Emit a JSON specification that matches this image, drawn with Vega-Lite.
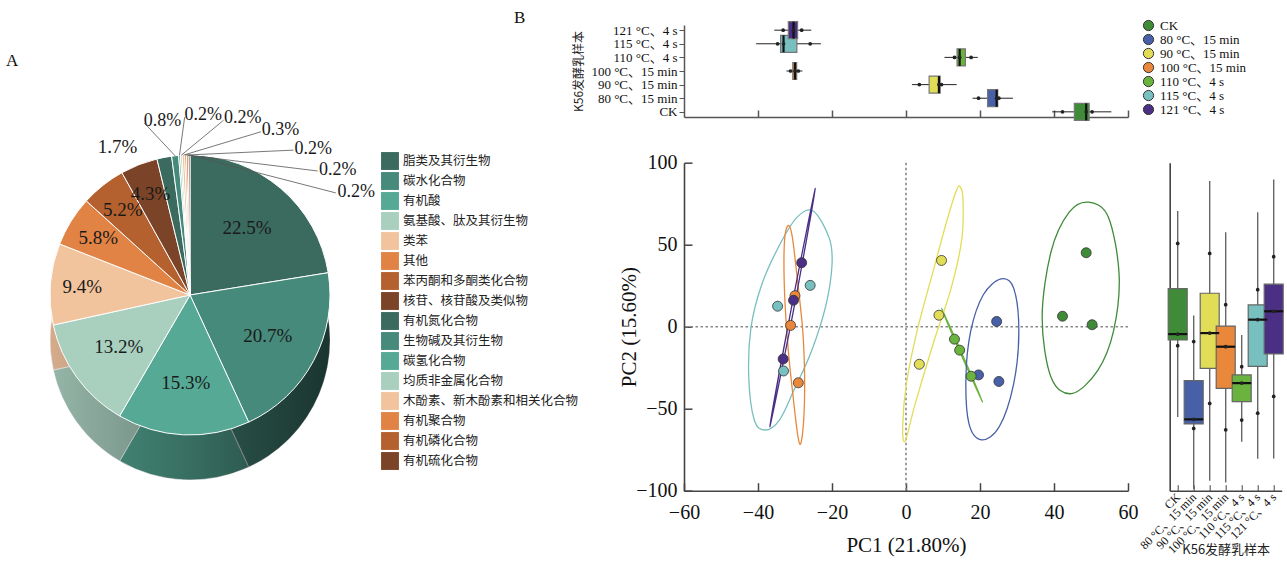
{
"$schema": "https://vega.github.io/schema/vega-lite/v6.json",
"padding": {"left": 0, "top": 9, "right": 0, "bottom": 0},
"config": {"view": {"stroke": null}, "font": "Liberation Serif", "axis": {"grid": false}},
"bounds": "flush",
"spacing": 304,
"resolve": {"scale": {"color": "independent"}, "legend": {"color": "independent"}},
"datasets": {
 "pie": [
  {"i":1,"cat":"脂类及其衍生物","pct":22.5},
  {"i":2,"cat":"碳水化合物","pct":20.7},
  {"i":3,"cat":"有机酸","pct":15.3},
  {"i":4,"cat":"氨基酸、肽及其衍生物","pct":13.2},
  {"i":5,"cat":"类苯","pct":9.4},
  {"i":6,"cat":"其他","pct":5.8},
  {"i":7,"cat":"苯丙酮和多酮类化合物","pct":5.2},
  {"i":8,"cat":"核苷、核苷酸及类似物","pct":4.3},
  {"i":9,"cat":"有机氮化合物","pct":1.7},
  {"i":10,"cat":"生物碱及其衍生物","pct":0.8},
  {"i":11,"cat":"碳氢化合物","pct":0.2},
  {"i":12,"cat":"均质非金属化合物","pct":0.2},
  {"i":13,"cat":"木酚素、新木酚素和相关化合物","pct":0.3},
  {"i":14,"cat":"有机聚合物","pct":0.2},
  {"i":15,"cat":"有机磷化合物","pct":0.2},
  {"i":16,"cat":"有机硫化合物","pct":0.2}
 ],
 "pca": [
  {"g":"CK","pc1":48.7,"pc2":45.1},{"g":"CK","pc1":42.3,"pc2":6.4},{"g":"CK","pc1":50.3,"pc2":1.2},
  {"g":"80 °C、15 min","pc1":24.5,"pc2":3.2},{"g":"80 °C、15 min","pc1":19.6,"pc2":-29.4},{"g":"80 °C、15 min","pc1":25.1,"pc2":-33.4},
  {"g":"90 °C、15 min","pc1":9.6,"pc2":40.4},{"g":"90 °C、15 min","pc1":8.9,"pc2":7.0},{"g":"90 °C、15 min","pc1":3.6,"pc2":-22.9},
  {"g":"100 °C、15 min","pc1":-30.0,"pc2":18.9},{"g":"100 °C、15 min","pc1":-31.2,"pc2":0.8},{"g":"100 °C、15 min","pc1":-29.1,"pc2":-34.2},
  {"g":"110 °C、4 s","pc1":13.1,"pc2":-7.6},{"g":"110 °C、4 s","pc1":14.5,"pc2":-14.3},{"g":"110 °C、4 s","pc1":17.6,"pc2":-30.2},
  {"g":"115 °C、4 s","pc1":-34.7,"pc2":12.5},{"g":"115 °C、4 s","pc1":-25.9,"pc2":25.2},{"g":"115 °C、4 s","pc1":-33.1,"pc2":-27.0},
  {"g":"121 °C、4 s","pc1":-28.2,"pc2":39.0},{"g":"121 °C、4 s","pc1":-30.4,"pc2":16.1},{"g":"121 °C、4 s","pc1":-33.2,"pc2":-19.7}
 ],
 "topbox": [
  {"g":"CK","lo":39.5,"q1":45.5,"med":48.7,"q3":49.5,"hi":55.5},
  {"g":"80 °C、15 min","lo":18.0,"q1":22.05,"med":24.5,"q3":24.8,"hi":28.9},
  {"g":"90 °C、15 min","lo":1.6,"q1":6.25,"med":8.9,"q3":9.25,"hi":13.7},
  {"g":"100 °C、15 min","lo":-32.3,"q1":-30.6,"med":-30.0,"q3":-29.55,"hi":-28.0},
  {"g":"110 °C、4 s","lo":10.4,"q1":13.8,"med":14.5,"q3":16.05,"hi":19.4},
  {"g":"115 °C、4 s","lo":-40.5,"q1":-33.9,"med":-33.1,"q3":-29.5,"hi":-23.0},
  {"g":"121 °C、4 s","lo":-35.6,"q1":-31.8,"med":-30.4,"q3":-29.3,"hi":-25.6}
 ],
 "rightbox": [
  {"g":"CK","lo":-55.0,"q1":-8.1,"med":-4.5,"q3":23.2,"hi":70.5},
  {"g":"80 °C、15 min","lo":-99.0,"q1":-59.3,"med":-56.5,"q3":-32.9,"hi":6.8},
  {"g":"90 °C、15 min","lo":-94.0,"q1":-25.4,"med":-3.9,"q3":20.4,"hi":88.8},
  {"g":"100 °C、15 min","lo":-95.0,"q1":-37.6,"med":-12.2,"q3":0.4,"hi":57.6},
  {"g":"110 °C、4 s","lo":-70.1,"q1":-45.7,"med":-34.4,"q3":-29.4,"hi":-5.1},
  {"g":"115 °C、4 s","lo":-80.5,"q1":-24.2,"med":4.3,"q3":13.3,"hi":69.8},
  {"g":"121 °C、4 s","lo":-80.4,"q1":-16.6,"med":9.4,"q3":25.9,"hi":89.8}
 ],
 "rightpts": [
  {"g":"CK","v":50.8},{"g":"CK","v":-4.5},{"g":"CK","v":-11.6},
  {"g":"80 °C、15 min","v":-9.1},{"g":"80 °C、15 min","v":-56.5},{"g":"80 °C、15 min","v":-62.0},
  {"g":"90 °C、15 min","v":44.7},{"g":"90 °C、15 min","v":-3.9},{"g":"90 °C、15 min","v":-46.8},
  {"g":"100 °C、15 min","v":13.4},{"g":"100 °C、15 min","v":-12.2},{"g":"100 °C、15 min","v":-62.9},
  {"g":"110 °C、4 s","v":-24.4},{"g":"110 °C、4 s","v":-34.4},{"g":"110 °C、4 s","v":-56.9},
  {"g":"115 °C、4 s","v":22.6},{"g":"115 °C、4 s","v":4.3},{"g":"115 °C、4 s","v":-52.7},
  {"g":"121 °C、4 s","v":42.7},{"g":"121 °C、4 s","v":9.4},{"g":"121 °C、4 s","v":-42.5}
 ],
 "ell": [
  {"g":"115 °C、4 s","k":0,"x":-25.0,"y":70.4},{"g":"115 °C、4 s","k":1,"x":-20.7,"y":53.7},{"g":"115 °C、4 s","k":2,"x":-20.0,"y":37.6},{"g":"115 °C、4 s","k":3,"x":-21.6,"y":13.5},{"g":"115 °C、4 s","k":4,"x":-25.5,"y":-14.7},{"g":"115 °C、4 s","k":5,"x":-30.3,"y":-38.8},{"g":"115 °C、4 s","k":6,"x":-34.2,"y":-56.9},{"g":"115 °C、4 s","k":7,"x":-38.1,"y":-63.0},{"g":"115 °C、4 s","k":8,"x":-41.0,"y":-56.9},{"g":"115 °C、4 s","k":9,"x":-42.5,"y":-30.8},{"g":"115 °C、4 s","k":10,"x":-41.9,"y":-0.6},{"g":"115 °C、4 s","k":11,"x":-39.0,"y":25.6},{"g":"115 °C、4 s","k":12,"x":-34.2,"y":49.7},{"g":"115 °C、4 s","k":13,"x":-29.4,"y":66.8},
  {"g":"100 °C、15 min","k":0,"x":-32.0,"y":61.4},{"g":"100 °C、15 min","k":1,"x":-30.8,"y":55.7},{"g":"100 °C、15 min","k":2,"x":-29.4,"y":29.6},{"g":"100 °C、15 min","k":3,"x":-27.9,"y":-2.6},{"g":"100 °C、15 min","k":4,"x":-27.4,"y":-30.8},{"g":"100 °C、15 min","k":5,"x":-27.6,"y":-54.9},{"g":"100 °C、15 min","k":6,"x":-28.4,"y":-71.0},{"g":"100 °C、15 min","k":7,"x":-29.2,"y":-67.0},{"g":"100 °C、15 min","k":8,"x":-30.3,"y":-46.9},{"g":"100 °C、15 min","k":9,"x":-31.8,"y":-14.7},{"g":"100 °C、15 min","k":10,"x":-32.8,"y":19.5},{"g":"100 °C、15 min","k":11,"x":-32.9,"y":49.7},
  {"g":"121 °C、4 s","k":0,"x":-24.5,"y":84.3},{"g":"121 °C、4 s","k":1,"x":-30.3,"y":11.2},{"g":"121 °C、4 s","k":2,"x":-36.8,"y":-61.0},{"g":"121 °C、4 s","k":3,"x":-30.9,"y":12.2},
  {"g":"110 °C、4 s","k":0,"x":9.6,"y":11.1},{"g":"110 °C、4 s","k":1,"x":15.3,"y":-17.2},{"g":"110 °C、4 s","k":2,"x":20.7,"y":-45.9},{"g":"110 °C、4 s","k":3,"x":15.0,"y":-17.6},
  {"g":"90 °C、15 min","k":0,"x":14.6,"y":85.5},{"g":"90 °C、15 min","k":1,"x":15.4,"y":77.9},{"g":"90 °C、15 min","k":2,"x":15.1,"y":53.7},{"g":"90 °C、15 min","k":3,"x":12.2,"y":23.5},{"g":"90 °C、15 min","k":4,"x":7.3,"y":-10.7},{"g":"90 °C、15 min","k":5,"x":2.5,"y":-46.9},{"g":"90 °C、15 min","k":6,"x":-0.2,"y":-69.6},{"g":"90 °C、15 min","k":7,"x":-0.9,"y":-61.0},{"g":"90 °C、15 min","k":8,"x":0.1,"y":-34.8},{"g":"90 °C、15 min","k":9,"x":3.0,"y":-2.6},{"g":"90 °C、15 min","k":10,"x":7.3,"y":33.6},{"g":"90 °C、15 min","k":11,"x":11.2,"y":65.8},{"g":"90 °C、15 min","k":12,"x":13.6,"y":82.9},
  {"g":"80 °C、15 min","k":0,"x":25.7,"y":29.2},{"g":"80 °C、15 min","k":1,"x":29.1,"y":23.5},{"g":"80 °C、15 min","k":2,"x":30.5,"y":-2.6},{"g":"80 °C、15 min","k":3,"x":29.1,"y":-34.8},{"g":"80 °C、15 min","k":4,"x":25.2,"y":-61.0},{"g":"80 °C、15 min","k":5,"x":20.4,"y":-69.0},{"g":"80 °C、15 min","k":6,"x":17.0,"y":-59.0},{"g":"80 °C、15 min","k":7,"x":16.2,"y":-30.8},{"g":"80 °C、15 min","k":8,"x":17.5,"y":-2.6},{"g":"80 °C、15 min","k":9,"x":20.9,"y":19.5},
  {"g":"CK","k":0,"x":49.4,"y":75.9},{"g":"CK","k":1,"x":54.7,"y":66.8},{"g":"CK","k":2,"x":57.6,"y":31.6},{"g":"CK","k":3,"x":56.1,"y":-2.6},{"g":"CK","k":4,"x":51.8,"y":-26.8},{"g":"CK","k":5,"x":44.8,"y":-40.8},{"g":"CK","k":6,"x":39.2,"y":-30.8},{"g":"CK","k":7,"x":36.8,"y":5.4},{"g":"CK","k":8,"x":39.2,"y":45.7},{"g":"CK","k":9,"x":44.1,"y":69.8}
 ]
},
"hconcat": [
 {
  "width": 380, "height": 540,
  "title": {"text": "A", "anchor": "start", "frame": "group", "orient": "top", "offset": -45, "dx": 6, "fontSize": 17, "font": "Liberation Serif", "fontWeight": "normal", "color": "#111"},
  "data": {"name": "pie"},
  "layer": [
   {
    "mark": {"type": "arc", "outerRadius": 140, "yOffset": 45, "stroke": "#ffffff", "strokeWidth": 0.8},
    "encoding": {
     "theta": {"field": "pct", "type": "quantitative", "stack": true},
     "order": {"field": "i", "type": "quantitative"},
     "color": {"field": "cat", "type": "nominal",
      "scale": {"domain": ["脂类及其衍生物","碳水化合物","有机酸","氨基酸、肽及其衍生物","类苯","其他","苯丙酮和多酮类化合物","核苷、核苷酸及类似物","有机氮化合物","生物碱及其衍生物","碳氢化合物","均质非金属化合物","木酚素、新木酚素和相关化合物","有机聚合物","有机磷化合物","有机硫化合物"],
       "range": ["#3b6a5e","#458a7b","#55a995","#a9cfbf","#f2c49e","#e28346","#b5612f","#7b4429","#3b6a5e","#458a7b","#55a995","#a9cfbf","#f2c49e","#e28346","#b5612f","#7b4429"]},
      "legend": {"orient": "none", "legendX": 381, "legendY": 127, "title": null, "symbolType": "square", "symbolSize": 320, "symbolStrokeWidth": 0, "labelFont": "Noto Sans CJK SC", "labelFontSize": 12.5, "labelColor": "#222", "rowPadding": 2, "labelOffset": 4, "labelLimit": 300}}
    }
   },
   {
    "data": {"values": [{}]},
    "mark": {"type": "arc", "outerRadius": 140, "theta": 0, "theta2": 6.2832, "yOffset": 45,
     "fill": {"gradient": "linear", "x1": 0, "x2": 1, "y1": 0, "y2": 0, "stops": [{"offset": 0, "color": "rgba(0,0,0,0.12)"}, {"offset": 0.5, "color": "rgba(0,0,0,0.35)"}, {"offset": 1, "color": "rgba(0,0,0,0.62)"}]}},
    "encoding": {}
   },
   {
    "mark": {"type": "arc", "outerRadius": 140, "stroke": "#ffffff", "strokeWidth": 1},
    "encoding": {
     "theta": {"field": "pct", "type": "quantitative", "stack": true},
     "order": {"field": "i", "type": "quantitative"},
     "color": {"field": "cat", "type": "nominal"}
    }
   },
   {
    "transform": [
     {"window": [{"op": "sum", "field": "pct", "as": "cum"}], "sort": [{"field": "i"}], "frame": [null, 0]},
     {"joinaggregate": [{"op": "sum", "field": "pct", "as": "tot"}]},
     {"calculate": "2*PI*(datum.cum-datum.pct/2)/datum.tot", "as": "mid"},
     {"filter": "datum.pct >= 4"},
     {"calculate": "(datum.pct > 10 ? 88 : 108)*sin(datum.mid)", "as": "lx"},
     {"calculate": "(datum.pct > 10 ? 88 : 108)*cos(datum.mid)", "as": "ly"},
     {"calculate": "format(datum.pct,'.1f')+'%'", "as": "lab"}
    ],
    "mark": {"type": "text", "font": "Liberation Serif", "fontSize": 19, "color": "#1a1a1a", "align": "center", "baseline": "middle"},
    "encoding": {
     "x": {"field": "lx", "type": "quantitative", "scale": {"domain": [-190, 190], "nice": false, "zero": false}, "axis": null},
     "y": {"field": "ly", "type": "quantitative", "scale": {"domain": [-270, 270], "nice": false, "zero": false}, "axis": null},
     "text": {"field": "lab"}
    }
   },
   {
    "transform": [
     {"window": [{"op": "sum", "field": "pct", "as": "cum"}], "sort": [{"field": "i"}], "frame": [null, 0]},
     {"joinaggregate": [{"op": "sum", "field": "pct", "as": "tot"}]},
     {"calculate": "2*PI*(datum.cum-datum.pct/2)/datum.tot", "as": "mid"},
     {"filter": "datum.pct >= 1 && datum.pct < 4"},
     {"calculate": "165*sin(datum.mid-0.27)", "as": "lx"},
     {"calculate": "165*cos(datum.mid-0.27)", "as": "ly"},
     {"calculate": "format(datum.pct,'.1f')+'%'", "as": "lab"}
    ],
    "mark": {"type": "text", "font": "Liberation Serif", "fontSize": 19, "color": "#1a1a1a", "align": "center", "baseline": "middle"},
    "encoding": {
     "x": {"field": "lx", "type": "quantitative", "scale": {"domain": [-190, 190], "nice": false, "zero": false}, "axis": null},
     "y": {"field": "ly", "type": "quantitative", "scale": {"domain": [-270, 270], "nice": false, "zero": false}, "axis": null},
     "text": {"field": "lab"}
    }
   },
   {
    "transform": [
     {"window": [{"op": "sum", "field": "pct", "as": "cum"}], "sort": [{"field": "i"}], "frame": [null, 0]},
     {"joinaggregate": [{"op": "sum", "field": "pct", "as": "tot"}]},
     {"calculate": "2*PI*(datum.cum-datum.pct/2)/datum.tot", "as": "mid"},
     {"filter": "datum.pct < 1"},
     {"window": [{"op": "row_number", "as": "k"}], "sort": [{"field": "i"}]},
     {"calculate": "[-0.26,-0.03,0.19,0.41,0.62,0.80,0.96][datum.k-1]", "as": "ang"},
     {"calculate": "178*sin(datum.ang)", "as": "lx"},
     {"calculate": "178*cos(datum.ang)", "as": "ly"},
     {"calculate": "140*sin(datum.mid)", "as": "sx"},
     {"calculate": "140*cos(datum.mid)", "as": "sy"}
    ],
    "mark": {"type": "rule", "color": "#555", "strokeWidth": 0.8},
    "encoding": {
     "x": {"field": "sx", "type": "quantitative", "scale": {"domain": [-190, 190], "nice": false, "zero": false}, "axis": null},
     "y": {"field": "sy", "type": "quantitative", "scale": {"domain": [-270, 270], "nice": false, "zero": false}, "axis": null},
     "x2": {"field": "lx"},
     "y2": {"field": "ly"}
    }
   },
   {
    "transform": [
     {"window": [{"op": "sum", "field": "pct", "as": "cum"}], "sort": [{"field": "i"}], "frame": [null, 0]},
     {"filter": "datum.pct < 1"},
     {"window": [{"op": "row_number", "as": "k"}], "sort": [{"field": "i"}]},
     {"calculate": "[-0.26,-0.03,0.19,0.41,0.62,0.80,0.96][datum.k-1]", "as": "ang"},
     {"calculate": "180*sin(datum.ang)", "as": "lx"},
     {"calculate": "180*cos(datum.ang)", "as": "ly"},
     {"calculate": "format(datum.pct,'.1f')+'%'", "as": "lab"}
    ],
    "mark": {"type": "text", "font": "Liberation Serif", "fontSize": 18, "color": "#1a1a1a", "align": "left", "baseline": "middle", "dx": 0},
    "encoding": {
     "x": {"field": "lx", "type": "quantitative", "scale": {"domain": [-190, 190], "nice": false, "zero": false}, "axis": null},
     "y": {"field": "ly", "type": "quantitative", "scale": {"domain": [-270, 270], "nice": false, "zero": false}, "axis": null},
     "text": {"field": "lab"}
    }
   }
  ]
 },
 {
  "vconcat": [
   {
    "width": 444, "height": 92,
    "title": {"text": "B", "anchor": "start", "frame": "group", "orient": "top", "offset": -8, "dx": -170, "fontSize": 17, "font": "Liberation Serif", "fontWeight": "normal", "color": "#111"},
    "layer": [
     {
      "data": {"name": "topbox"},
      "mark": {"type": "rule", "color": "#222", "strokeWidth": 1},
      "encoding": {
       "y": {"field": "g", "type": "nominal", "scale": {"type": "point", "padding": 0.38, "domain": ["121 °C、4 s","115 °C、4 s","110 °C、4 s","100 °C、15 min","90 °C、15 min","80 °C、15 min","CK"]},
        "axis": {"title": "K56发酵乳样本", "titleFont": "Noto Sans CJK SC", "titleFontSize": 12, "titleFontWeight": "normal", "titleColor": "#222", "titlePadding": 5, "labelFont": "Liberation Serif, Noto Sans CJK SC", "labelFontSize": 13, "labelColor": "#111", "tickSize": 5, "labelPadding": 2, "domainColor": "#555", "domainWidth": 1.5, "tickColor": "#555"}},
       "x": {"field": "lo", "type": "quantitative", "scale": {"domain": [-60, 60], "nice": false, "zero": false},
        "axis": {"title": null, "labels": false, "values": [-40, -20, 0, 20, 40, 60], "tickSize": -7, "tickColor": "#555", "tickWidth": 1.5, "domainColor": "#555", "domainWidth": 1.5}},
       "x2": {"field": "hi"}
      }
     },
     {
      "data": {"name": "topbox"},
      "mark": {"type": "bar", "height": 17, "stroke": "#777", "strokeWidth": 1.2},
      "encoding": {
       "y": {"field": "g", "type": "nominal"},
       "x": {"field": "q1", "type": "quantitative"},
       "x2": {"field": "q3"},
       "color": {"field": "g", "type": "nominal",
        "scale": {"domain": ["CK","80 °C、15 min","90 °C、15 min","100 °C、15 min","110 °C、4 s","115 °C、4 s","121 °C、4 s"], "range": ["#3f8b38","#4760a8","#e2dd57","#e9873b","#6ab33e","#78bfbf","#4b2f85"]},
        "legend": {"orient": "none", "legendX": 458, "legendY": -6, "title": null, "symbolType": "circle", "symbolSize": 105, "symbolStrokeColor": "#333", "symbolStrokeWidth": 1, "labelFont": "Liberation Serif, Noto Sans CJK SC", "labelFontSize": 13, "labelColor": "#111", "rowPadding": -1, "labelOffset": 5}}
      }
     },
     {
      "data": {"name": "topbox"},
      "mark": {"type": "tick", "orient": "vertical", "size": 17, "thickness": 2.2, "color": "#111", "opacity": 1},
      "encoding": {
       "y": {"field": "g", "type": "nominal"},
       "x": {"field": "med", "type": "quantitative"}
      }
     },
     {
      "data": {"name": "pca"},
      "mark": {"type": "circle", "size": 14, "color": "#222", "opacity": 1},
      "encoding": {
       "y": {"field": "g", "type": "nominal"},
       "x": {"field": "pc1", "type": "quantitative"}
      }
     }
    ]
   },
   {
    "hconcat": [
     {
      "width": 444, "height": 328,
      "layer": [
       {
        "data": {"values": [{}]},
        "mark": {"type": "rule", "strokeDash": [2.5, 2.5], "color": "#888", "strokeWidth": 1.6},
        "encoding": {
         "x": {"datum": 0, "type": "quantitative", "scale": {"domain": [-60, 60], "nice": false, "zero": false},
          "axis": {"values": [-60, -40, -20, 0, 20, 40, 60], "title": "PC1 (21.80%)", "titleFont": "Liberation Serif", "titleFontSize": 21, "titleFontWeight": "normal", "titleColor": "#111", "titlePadding": 12, "labelFont": "Liberation Serif", "labelFontSize": 20, "labelColor": "#111", "labelFlush": false, "labelOverlap": false, "labelPadding": 20, "tickSize": -8, "tickColor": "#444", "tickWidth": 1.5, "domainColor": "#444", "domainWidth": 1.6}}
        }
       },
       {
        "data": {"values": [{}]},
        "mark": {"type": "rule", "strokeDash": [2.5, 2.5], "color": "#888", "strokeWidth": 1.6},
        "encoding": {
         "y": {"datum": 0, "type": "quantitative", "scale": {"domain": [-100, 100], "nice": false, "zero": false},
          "axis": {"values": [-100, -50, 0, 50, 100], "title": "PC2 (15.60%)", "titleFont": "Liberation Serif", "titleFontSize": 21, "titleFontWeight": "normal", "titleColor": "#111", "titlePadding": -4, "labelFont": "Liberation Serif", "labelFontSize": 20, "labelColor": "#111", "labelFlush": false, "labelOverlap": false, "labelPadding": 15, "tickSize": -8, "tickColor": "#444", "tickWidth": 1.5, "domainColor": "#444", "domainWidth": 1.6}}
        }
       },
       {
        "data": {"name": "ell"},
        "mark": {"type": "line", "interpolate": "cardinal-closed", "strokeWidth": 1.3},
        "encoding": {
         "x": {"field": "x", "type": "quantitative"},
         "y": {"field": "y", "type": "quantitative"},
         "order": {"field": "k", "type": "quantitative"},
         "color": {"field": "g", "type": "nominal",
          "scale": {"domain": ["CK","80 °C、15 min","90 °C、15 min","100 °C、15 min","110 °C、4 s","115 °C、4 s","121 °C、4 s"], "range": ["#3f8b38","#4760a8","#e2dd57","#e9873b","#6ab33e","#78bfbf","#4b2f85"]},
          "legend": null}
        }
       },
       {
        "data": {"name": "pca"},
        "mark": {"type": "circle", "size": 100, "stroke": "#333", "strokeWidth": 0.8, "opacity": 1},
        "encoding": {
         "x": {"field": "pc1", "type": "quantitative"},
         "y": {"field": "pc2", "type": "quantitative"},
         "color": {"field": "g", "type": "nominal", "legend": null}
        }
       }
      ]
     },
     {
      "width": 112, "height": 328,
      "layer": [
       {
        "data": {"name": "rightbox"},
        "mark": {"type": "rule", "color": "#666", "strokeWidth": 1.4, "clip": true},
        "encoding": {
         "x": {"field": "g", "type": "nominal", "scale": {"type": "point", "padding": 0.5, "domain": ["CK","80 °C、15 min","90 °C、15 min","100 °C、15 min","110 °C、4 s","115 °C、4 s","121 °C、4 s"]},
          "axis": {"title": "K56发酵乳样本", "titleFont": "Noto Sans CJK SC", "titleFontSize": 13, "titleFontWeight": "normal", "titleColor": "#222", "titlePadding": -12, "labelFont": "Liberation Serif, Noto Sans CJK SC", "labelFontSize": 12, "labelColor": "#111", "labelAngle": -45, "labelAlign": "right", "labelBaseline": "middle", "labelPadding": 10, "tickSize": -6, "tickColor": "#444", "domainColor": "#444", "domainWidth": 1.6}},
         "y": {"field": "lo", "type": "quantitative", "scale": {"domain": [-100, 100], "nice": false, "zero": false},
          "axis": {"labels": false, "ticks": false, "title": null, "domainColor": "#444", "domainWidth": 1.6}},
         "y2": {"field": "hi"}
        }
       },
       {
        "data": {"name": "rightbox"},
        "mark": {"type": "bar", "width": 19, "stroke": "#666", "strokeWidth": 1.2},
        "encoding": {
         "x": {"field": "g", "type": "nominal"},
         "y": {"field": "q1", "type": "quantitative"},
         "y2": {"field": "q3"},
         "color": {"field": "g", "type": "nominal",
          "scale": {"domain": ["CK","80 °C、15 min","90 °C、15 min","100 °C、15 min","110 °C、4 s","115 °C、4 s","121 °C、4 s"], "range": ["#3f8b38","#4760a8","#e2dd57","#e9873b","#6ab33e","#78bfbf","#4b2f85"]},
          "legend": null}
        }
       },
       {
        "data": {"name": "rightbox"},
        "mark": {"type": "tick", "orient": "horizontal", "size": 19, "thickness": 2.2, "color": "#111", "opacity": 1},
        "encoding": {
         "x": {"field": "g", "type": "nominal"},
         "y": {"field": "med", "type": "quantitative"}
        }
       },
       {
        "data": {"name": "rightpts"},
        "mark": {"type": "circle", "size": 14, "color": "#222", "opacity": 1},
        "encoding": {
         "x": {"field": "g", "type": "nominal"},
         "y": {"field": "v", "type": "quantitative"}
        }
       }
      ]
     }
    ],
    "spacing": 41.7,
    "bounds": "flush",
    "resolve": {"scale": {"color": "independent"}, "legend": {"color": "independent"}}
   }
  ],
  "spacing": 45.7,
  "bounds": "flush",
  "resolve": {"scale": {"color": "independent"}, "legend": {"color": "independent"}}
 }
]
}
